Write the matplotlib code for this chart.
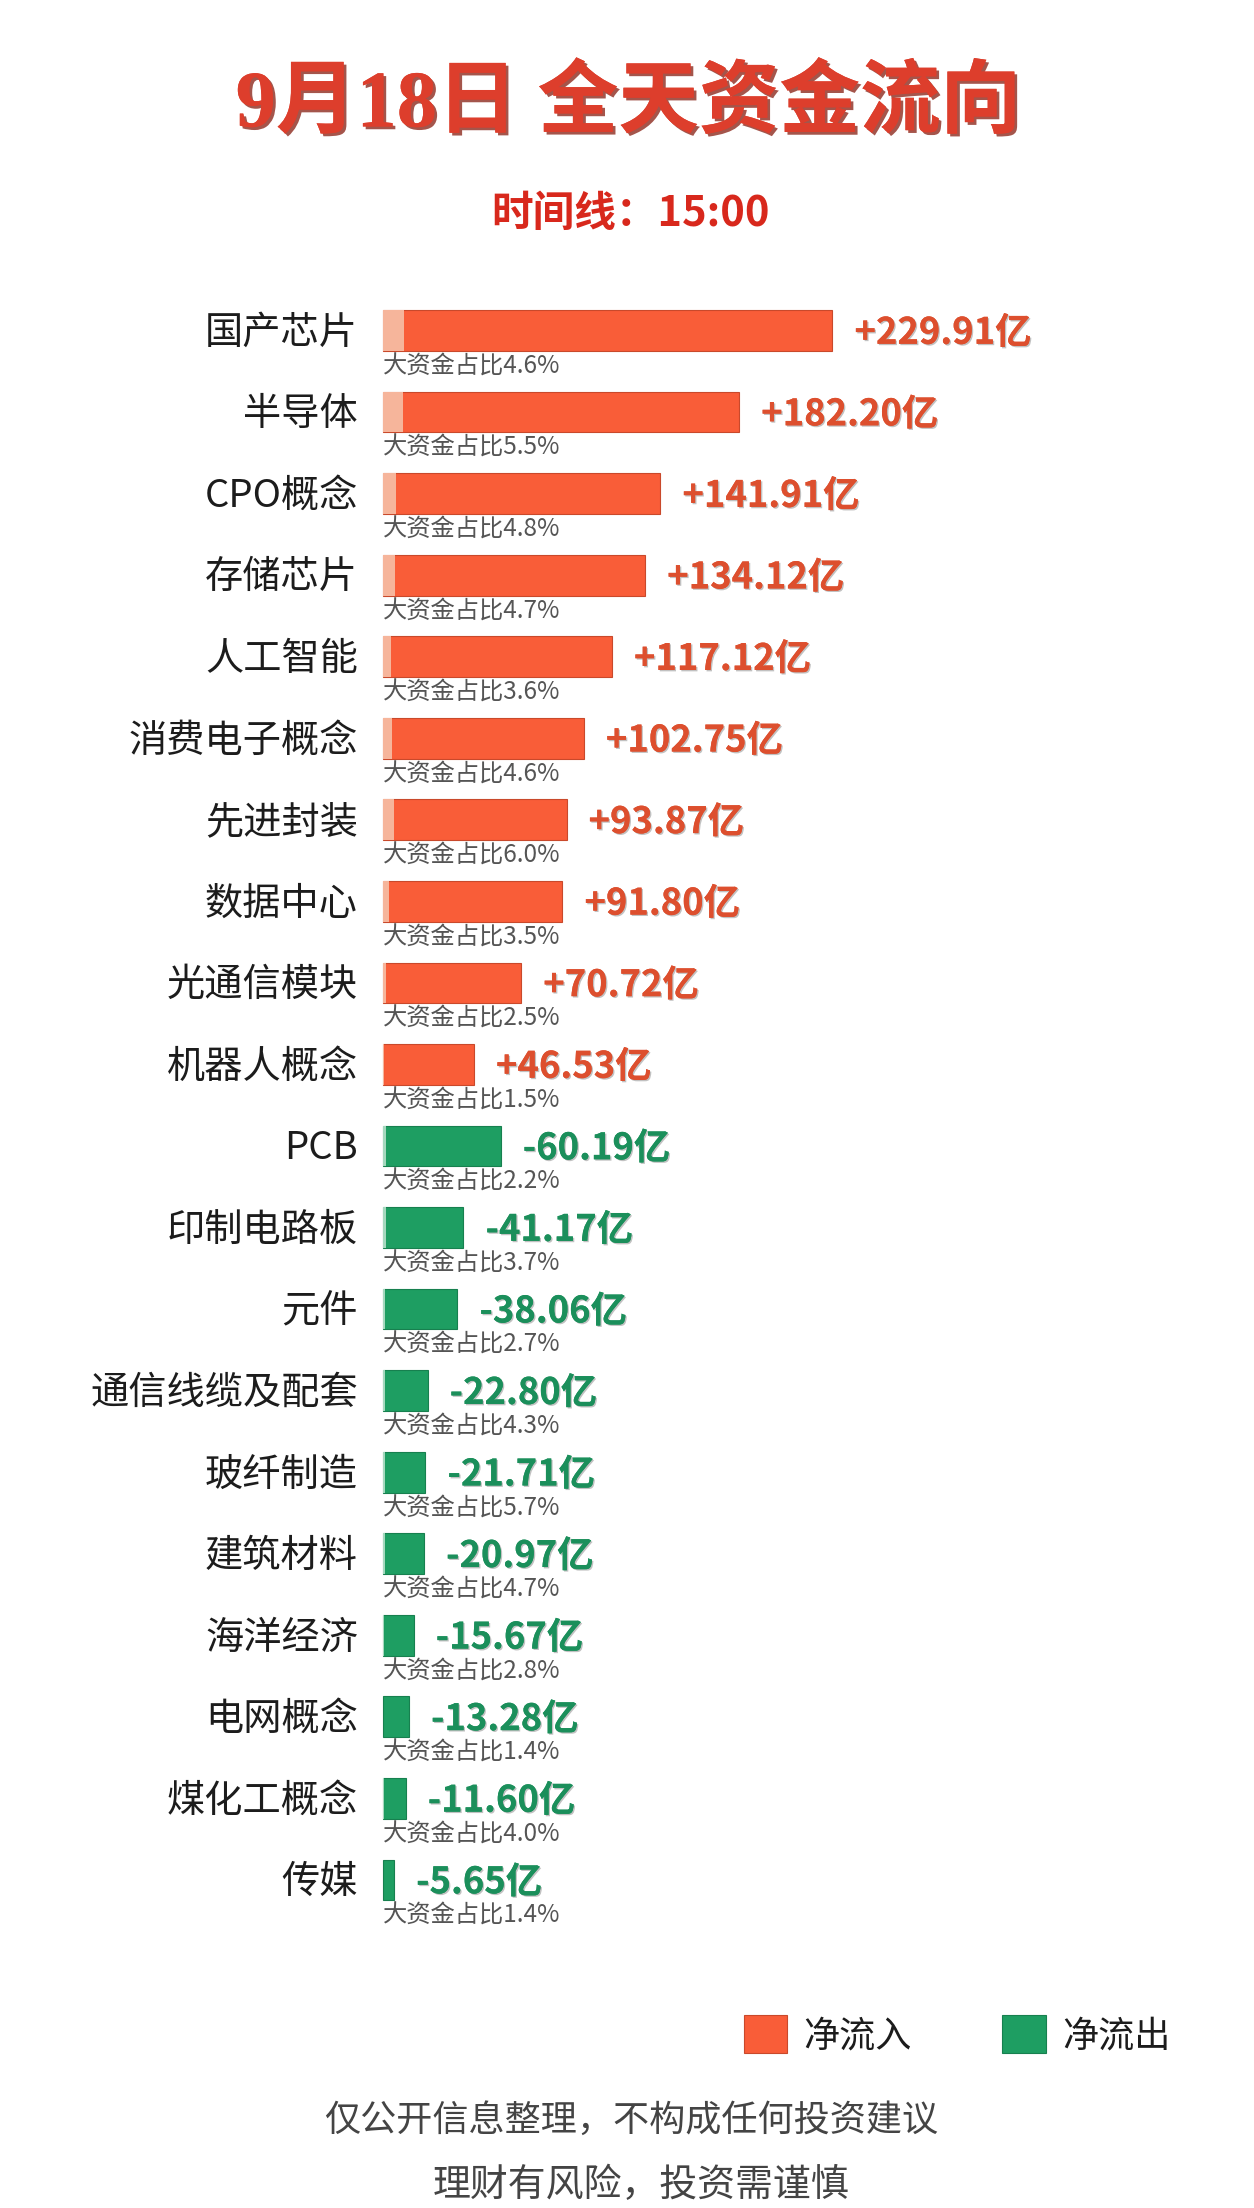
import matplotlib
matplotlib.use("Agg")
import matplotlib.pyplot as plt
import matplotlib.patheffects as pe
from matplotlib.patches import Patch

plt.rcParams["font.family"] = ["Noto Sans CJK SC", "DejaVu Sans"]

categories = ["国产芯片", "半导体", "CPO概念", "存储芯片", "人工智能", "消费电子概念", "先进封装",
              "数据中心", "光通信模块", "机器人概念", "PCB", "印制电路板", "元件", "通信线缆及配套",
              "玻纤制造", "建筑材料", "海洋经济", "电网概念", "煤化工概念", "传媒"]
values = [229.91, 182.20, 141.91, 134.12, 117.12, 102.75, 93.87, 91.80, 70.72, 46.53,
          -60.19, -41.17, -38.06, -22.80, -21.71, -20.97, -15.67, -13.28, -11.60, -5.65]
big_share = [4.6, 5.5, 4.8, 4.7, 3.6, 4.6, 6.0, 3.5, 2.5, 1.5,
             2.2, 3.7, 2.7, 4.3, 5.7, 4.7, 2.8, 1.4, 4.0, 1.4]

RED = "#F95D38"
RED_LIGHT = "#F6B59B"
GREEN = "#1E9E62"
GREEN_LIGHT = "#A5D8BE"

W, H = 1254, 2208
PX_PER_UNIT = 1.955
ROW = 81.55

fig = plt.figure(figsize=(W / 100, H / 100), dpi=100, facecolor="white")
ax = fig.add_axes([0, 0, 1, 1])
# value 0 sits at x=383px, first row centre at y=330.5px
ax.set_xlim(-383 / PX_PER_UNIT, (W - 383) / PX_PER_UNIT)
ax.set_ylim((H - 330.5) / ROW, -330.5 / ROW)
ax.axis("off")

for i, (name, v, s) in enumerate(zip(categories, values, big_share)):
    size = abs(v)
    color = RED if v > 0 else GREEN
    light = RED_LIGHT if v > 0 else GREEN_LIGHT
    dark = "#C9492B" if v > 0 else "#17804F"
    txt = "#DD4F2E" if v > 0 else "#1B8F5B"

    ax.barh(i, size, height=0.5, color=color, edgecolor=dark, linewidth=0.8)
    ax.barh(i, size * s / 100, height=0.5, color=light, linewidth=0)

    ax.annotate(name, (0, i), xytext=(-25 * 0.72, -2), textcoords="offset points",
                ha="right", va="center", fontsize=27.5, color="#1c1c1c")
    ax.annotate(f"{v:+.2f}亿", (size, i), xytext=(22 * 0.72, -2), textcoords="offset points",
                ha="left", va="center", fontsize=26.2, fontweight="bold", color=txt,
                path_effects=[pe.withSimplePatchShadow(offset=(1, -1), shadow_rgbFace="#999999", alpha=0.6),
                              pe.Normal()])
    ax.annotate(f"大资金占比{s}%", (0, i), xytext=(0, -36 * 0.72), textcoords="offset points",
                ha="left", va="center", fontsize=17.5, color="#555555")

fig.text(628 / W, 1 - 105 / H, "9月18日 全天资金流向", ha="center", va="center",
         fontsize=58, fontweight="bold", color="#DD3E2C",
         family=["Liberation Serif", "Noto Sans CJK SC"],
         path_effects=[pe.withSimplePatchShadow(offset=(2, -2), shadow_rgbFace="#8E2A1E", alpha=0.8),
                       pe.Normal()])
fig.text(631 / W, 1 - 214 / H, "时间线：15:00", ha="center", va="center",
         fontsize=30, fontweight="bold", color="#D8281C")

handles = [Patch(facecolor=RED, edgecolor="#C9492B", linewidth=0.8, label="净流入"),
           Patch(facecolor=GREEN, edgecolor="#17804F", linewidth=0.8, label="净流出")]
leg = fig.legend(handles=handles, loc="upper left", bbox_to_anchor=(744 / W, 1 - 2015 / H),
                 ncol=2, frameon=False, fontsize=26, borderpad=0, borderaxespad=0,
                 handlelength=1.2, handleheight=1.25, handletextpad=0.45, columnspacing=2.5)
for t in leg.get_texts():
    t.set_color("#1c1c1c")

fig.text(631 / W, 1 - 2121 / H, "仅公开信息整理，不构成任何投资建议", ha="center", va="center",
         fontsize=26, color="#444444")
fig.text(641 / W, 1 - 2186 / H, "理财有风险，投资需谨慎", ha="center", va="center",
         fontsize=27.3, color="#444444")

plt.savefig("out.png", dpi=100)
